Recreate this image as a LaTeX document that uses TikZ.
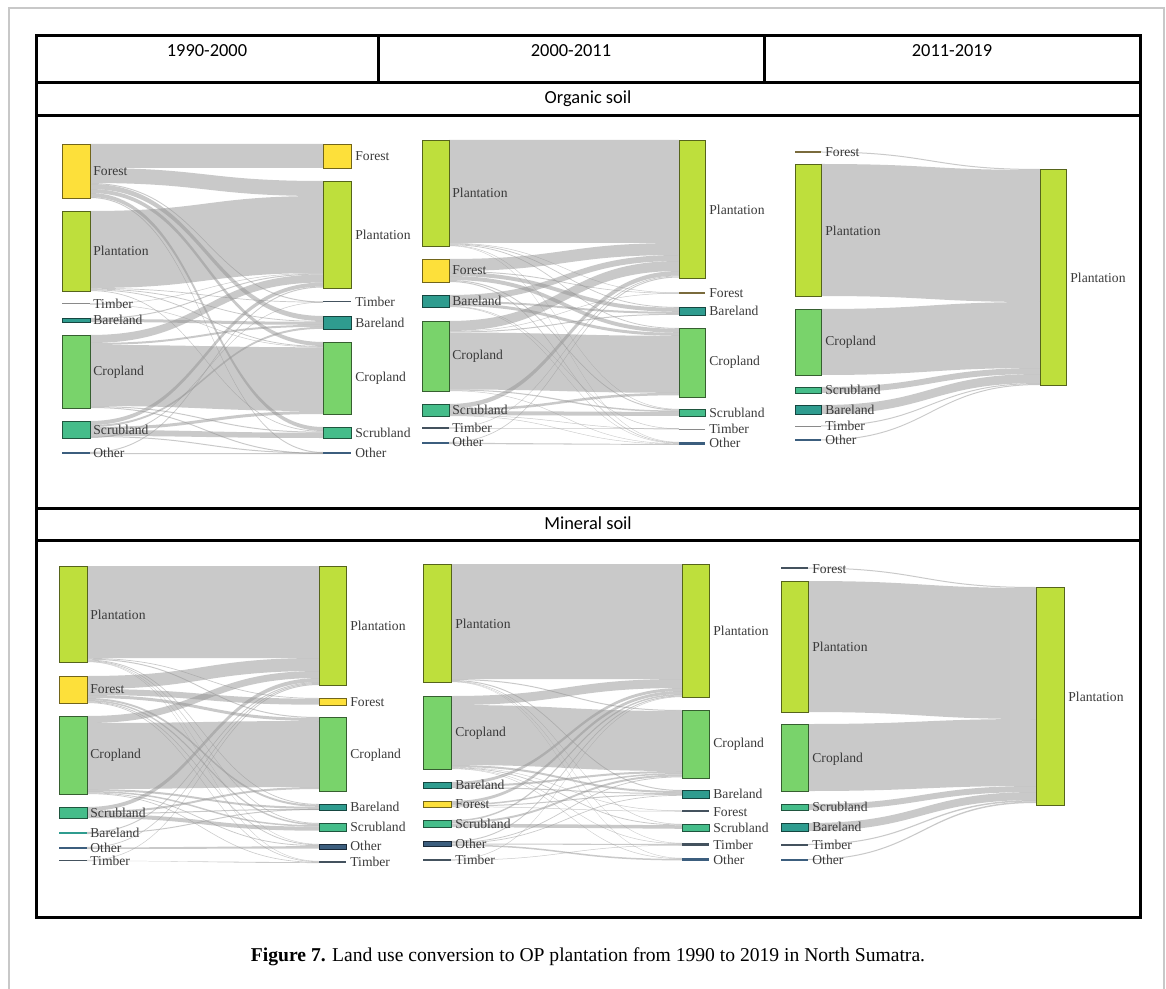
\documentclass[tikz,border=0pt]{standalone}
\usepackage{fontspec}
\setmainfont{Liberation Serif}
\newfontfamily\headfont{Carlito}
\usetikzlibrary{positioning}

\definecolor{plantc}{HTML}{BEDF3C}
\definecolor{forestc}{HTML}{FDE03A}
\definecolor{cropc}{HTML}{79D36B}
\definecolor{scrubc}{HTML}{45BD8A}
\definecolor{barec}{HTML}{2F9C8F}
\definecolor{otherc}{HTML}{3C5E7E}
\definecolor{timberc}{HTML}{44525E}
\definecolor{timberl}{HTML}{8A8A8A}
\definecolor{olivec}{HTML}{7A6B3C}
\definecolor{labelc}{HTML}{3A3A3A}
\definecolor{pagec}{HTML}{C8C8C8}

\tikzset{
  barbox/.style={draw=#1!45!black, line width=0.4pt, fill=#1},
  flowband/.style={fill=black!42, fill opacity=0.5},
  lbl/.style={anchor=west, inner sep=0pt, text=labelc, font=\fontsize{6.8}{7}\selectfont},
  rowtxt/.style={inner sep=0pt, font=\headfont\fontsize{9.2}{11}\selectfont},
  tableline/.style={line width=1.5pt, black}
}

% panel x positions: right edge of left bars, left edge of right bars
\newcommand{\setpanel}[2]{\def\panelL{#1}\def\panelR{#2}\pgfmathsetmacro\panelM{(#1+#2)/2}}
% one flow band: left top/bottom, right top/bottom
\newcommand{\band}[4]{\fill[flowband] (\panelL,#1) .. controls (\panelM,#1) and (\panelM,#3) .. (\panelR,#3) -- (\panelR,#4) .. controls (\panelM,#4) and (\panelM,#2) .. (\panelL,#2) -- cycle;}
% land use bar and thin bar
\newcommand{\lubar}[5]{\draw[barbox=#5] (#1,#3) rectangle (#2,#4);}
\newcommand{\luline}[5]{\draw[#5, line width=#4] (#1,#3) -- (#2,#3);}

\begin{document}
\begin{tikzpicture}[x=0.5pt, y=-0.5pt]
  \useasboundingbox (0,0) rectangle (1166,989);
  % page border
  \draw[pagec, line width=1pt] (9,989) -- (9,8) -- (1164,8) -- (1164,989);

  % table
  \draw[tableline] (36,36) rectangle (1140,917);
  \draw[tableline] (36,83) -- (1140,83);
  \draw[tableline] (36,116) -- (1140,116);
  \draw[tableline] (36,508) -- (1140,508);
  \draw[tableline] (36,540) -- (1140,540);
  \draw[tableline] (378,36) -- (378,83);
  \draw[tableline] (764,36) -- (764,83);
  \node[rowtxt] (head1) at (207,51) {1990-2000};
  \node[rowtxt] (head2) at (571,51) {2000-2011};
  \node[rowtxt] (head3) at (952,51) {2011-2019};
  \node[rowtxt] (organic) at (588,99) {Organic soil};
  \node[rowtxt] (mineral) at (588,523) {Mineral soil};

  % ---- Organic soil, 1990-2000
  \setpanel{90}{323}
  \foreach \a/\b/\c/\d in {144/168/144/168, 168/183/181/196, 183/184/301.5/302.5,
      184/189/316/321, 189/193/342/346, 193/197/427/431, 197/198/452/453,
      211/288/196/273, 288/288.7/301.8/302.5, 288.7/289.5/321/321.8,
      289.5/290.3/346/346.8, 290.3/291/431/431.7,
      303.5/304/273/273.5, 304/304.5/346.8/347.3,
      318/319/273.5/274.5, 319/322/321.8/324.8,
      335/343/274.5/282.5, 343/345/324.8/326.8, 345/406/347.3/411,
      406/407/431.7/432.7, 407/408/453/454,
      421/425/282.5/286.5, 425/427/326.8/328.8, 427/430/411/414,
      430/436/432.7/438, 436/437/452.5/453.5, 437/438/302/302.5,
      452/453/286.5/287.5, 453/454/453/454}
    {\band{\a}{\b}{\c}{\d}}
  \lubar{62}{90}{144}{198}{forestc}
  \lubar{62}{90}{211}{291}{plantc}
  \luline{62}{90}{304}{0.5pt}{timberl}
  \lubar{62}{90}{318}{322}{barec}
  \lubar{62}{90}{335}{408}{cropc}
  \lubar{62}{90}{421}{438}{scrubc}
  \luline{62}{90}{453}{1pt}{otherc}
  \lubar{323}{351}{144}{168}{forestc}
  \lubar{323}{351}{181}{288}{plantc}
  \luline{323}{351}{302}{0.5pt}{timberc}
  \lubar{323}{351}{316}{329}{barec}
  \lubar{323}{351}{342}{414}{cropc}
  \lubar{323}{351}{427}{438}{scrubc}
  \luline{323}{351}{453}{1pt}{otherc}
  \foreach \y/\t in {171/Forest, 251/Plantation, 304/Timber, 320/Bareland,
      372/Cropland, 430/Scrubland, 453/Other}
    {\node[lbl] (oa-l-\t) at (93,\y) {\t};}
  \foreach \y/\t in {156/Forest, 235/Plantation, 302/Timber, 323/Bareland,
      378/Cropland, 433/Scrubland, 453/Other}
    {\node[lbl] (oa-r-\t) at (355,\y) {\t};}

  % ---- Organic soil, 2000-2011
  \setpanel{449}{679}
  \foreach \a/\b/\c/\d in {140/243/140/243, 243/243.5/292.5/293, 243.5/244.3/307/307.8,
      244.3/245.1/328/328.8, 245.1/245.6/409/409.5, 245.6/246/442/442.4,
      259/271/243/255, 271/272/293/293.5, 272/276/307.8/311.8,
      276/280/328.8/332.8, 280/281/409.5/410.5, 281/282/442.4/443,
      295/301/255/261, 301/303/311.8/313.8, 303/306/332.8/335.8,
      306/306.5/428.5/429, 306.5/307/443/443.4,
      321/331/261/271, 331/331.5/293/293.5, 331.5/332.5/313.8/314.8,
      332.5/389.5/335.8/392.8, 389.5/390.5/410.5/412, 390.5/391/443.4/443.8,
      404/408.5/271/275.5, 408.5/411/392.8/395.3, 411/415/412/416,
      415/415.5/429/429.5, 415.5/416/443.8/444.2,
      427.5/428/275.5/276.3, 428/428.5/428.5/429,
      442/442.7/276.5/277.5, 442.7/444/444.2/445}
    {\band{\a}{\b}{\c}{\d}}
  \lubar{422}{449}{140}{246}{plantc}
  \lubar{422}{449}{259}{282}{forestc}
  \lubar{422}{449}{295}{307}{barec}
  \lubar{422}{449}{321}{391}{cropc}
  \lubar{422}{449}{404}{416}{scrubc}
  \luline{422}{449}{428}{0.6pt}{timberc}
  \luline{422}{449}{443}{1pt}{otherc}
  \lubar{679}{705}{140}{278}{plantc}
  \luline{679}{705}{293}{1pt}{olivec}
  \lubar{679}{705}{307}{315}{barec}
  \lubar{679}{705}{328}{397}{cropc}
  \lubar{679}{705}{409}{416}{scrubc}
  \luline{679}{705}{429}{0.5pt}{timberl}
  \luline{679}{705}{443.5}{1.4pt}{otherc}
  \foreach \y/\t in {193/Plantation, 270/Forest, 301/Bareland, 356/Cropland,
      410/Scrubland, 428/Timber, 442/Other}
    {\node[lbl] (ob-l-\t) at (452,\y) {\t};}
  \foreach \y/\t in {210/Plantation, 293/Forest, 311/Bareland, 362/Cropland,
      413/Scrubland, 429/Timber, 443/Other}
    {\node[lbl] (ob-r-\t) at (709,\y) {\t};}

  % ---- Organic soil, 2011-2019
  \setpanel{821}{1040}
  \foreach \a/\b/\c/\d in {151.5/152.5/169/170, 164/296/170/302, 309/375/302/368,
      387/393/368/374, 405/414/374/383, 425.5/426.5/383/384, 439.5/440.5/384/385}
    {\band{\a}{\b}{\c}{\d}}
  \luline{795}{821}{152}{1pt}{olivec}
  \lubar{795}{821}{164}{296}{plantc}
  \lubar{795}{821}{309}{375}{cropc}
  \lubar{795}{821}{387}{393}{scrubc}
  \lubar{795}{821}{405}{414}{barec}
  \luline{795}{821}{426}{0.5pt}{timberl}
  \luline{795}{821}{440}{1pt}{otherc}
  \lubar{1040}{1066}{169}{385}{plantc}
  \foreach \y/\t in {152/Forest, 231/Plantation, 342/Cropland, 390/Scrubland,
      410/Bareland, 426/Timber, 440/Other}
    {\node[lbl] (oc-l-\t) at (825,\y) {\t};}
  \node[lbl] (oc-r-Plantation) at (1070,278) {Plantation};

  % ---- Mineral soil, 1990-2000
  \setpanel{87}{319}
  \foreach \a/\b/\c/\d in {566/658/566/658, 658/658.7/698/698.7, 658.7/659.7/717/718,
      659.7/660.5/804/804.8, 660.5/661.2/823/823.7, 661.2/661.6/844/844.4,
      661.6/662/861/861.4,
      676/689/658/671, 689/695/698.7/704.7, 695/698/718/721, 698/700/804.8/806.8,
      700/701.5/823.7/825.2, 701.5/702.3/844.4/845.2, 702.3/703/861.4/862,
      716/723/671/678, 723/789/721/787, 789/791/806.8/808.8, 791/792.5/825.2/826.7,
      792.5/793.3/845.2/846, 793.3/794/862/862.6,
      807/811/678/682, 811/813/787/789, 813/814/808.8/809.8, 814/818/826.7/830.7,
      832/833/682/683, 833/834/809/810,
      847/847.7/683/684, 847.7/849/846/848.5,
      860/860.5/684/685, 860.5/861/862.4/863}
    {\band{\a}{\b}{\c}{\d}}
  \lubar{59}{87}{566}{662}{plantc}
  \lubar{59}{87}{676}{703}{forestc}
  \lubar{59}{87}{716}{794}{cropc}
  \lubar{59}{87}{807}{818}{scrubc}
  \luline{59}{87}{833}{1pt}{barec}
  \luline{59}{87}{848}{1pt}{otherc}
  \luline{59}{87}{860.5}{0.7pt}{timberc}
  \lubar{319}{346}{566}{685}{plantc}
  \lubar{319}{346}{698}{705}{forestc}
  \lubar{319}{346}{717}{791}{cropc}
  \lubar{319}{346}{804}{810}{barec}
  \lubar{319}{346}{823}{831}{scrubc}
  \lubar{319}{346}{844}{849}{otherc}
  \luline{319}{346}{862}{1pt}{timberc}
  \foreach \y/\t in {615/Plantation, 689/Forest, 755/Cropland, 813/Scrubland,
      833/Bareland, 848/Other, 861/Timber}
    {\node[lbl] (ma-l-\t) at (90,\y) {\t};}
  \foreach \y/\t in {626/Plantation, 702/Forest, 755/Cropland, 807/Bareland,
      827/Scrubland, 846/Other, 862/Timber}
    {\node[lbl] (ma-r-\t) at (350,\y) {\t};}

  % ---- Mineral soil, 2000-2011
  \setpanel{451}{682}
  \foreach \a/\b/\c/\d in {564/679/564/679, 679/680/710/711, 680/681/790/791,
      681/681.5/824/824.5, 681.5/681.8/843/843.4, 681.8/682/858/858.4,
      696/705/679/688, 705/765/711/771, 765/767/791/793, 767/767.4/810.5/811,
      767.4/768.2/824.5/825.3, 768.2/768.6/843.4/843.9, 768.6/769/858.4/858.9,
      782/785/688/691, 785/787/771/773, 787/788/793/794,
      801/804/691/694, 804/805.5/773/774.5, 805.5/806.5/794/795, 806.5/807/811/811.5,
      820/821.5/694/695.5, 821.5/823.5/774.5/776.5, 823.5/827/825.3/828.8,
      841/842/695.5/696.5, 842/842.8/776.5/777.3, 842.8/843.5/795/795.7,
      843.5/844.5/843.9/845, 844.5/846/858.9/860.4,
      859.5/860/696.5/697, 860/860.5/845/845.5}
    {\band{\a}{\b}{\c}{\d}}
  \lubar{423}{451}{564}{682}{plantc}
  \lubar{423}{451}{696}{769}{cropc}
  \lubar{423}{451}{782}{788}{barec}
  \lubar{423}{451}{801}{807}{forestc}
  \lubar{423}{451}{820}{827}{scrubc}
  \lubar{423}{451}{841}{846}{otherc}
  \luline{423}{451}{860}{0.6pt}{timberc}
  \lubar{682}{709}{564}{697}{plantc}
  \lubar{682}{709}{710}{778}{cropc}
  \lubar{682}{709}{790}{798}{barec}
  \luline{682}{709}{811}{0.6pt}{timberc}
  \lubar{682}{709}{824}{831}{scrubc}
  \luline{682}{709}{844.5}{1.5pt}{timberc}
  \luline{682}{709}{859.5}{1.5pt}{otherc}
  \foreach \y/\t in {624/Plantation, 733/Cropland, 785/Bareland, 804/Forest,
      824/Scrubland, 844/Other, 860/Timber}
    {\node[lbl] (mb-l-\t) at (455,\y) {\t};}
  \foreach \y/\t in {631/Plantation, 744/Cropland, 794/Bareland, 812/Forest,
      828/Scrubland, 845/Timber, 860/Other}
    {\node[lbl] (mb-r-\t) at (713,\y) {\t};}

  % ---- Mineral soil, 2011-2019
  \setpanel{808}{1036}
  \foreach \a/\b/\c/\d in {567.5/568.5/587/588, 581/712/588/719, 724/791/719/786,
      804/810/786/792, 823/831/792/800, 844/845/800/801.5, 859/860/801.5/803}
    {\band{\a}{\b}{\c}{\d}}
  \luline{781}{808}{568}{0.6pt}{timberc}
  \lubar{781}{808}{581}{712}{plantc}
  \lubar{781}{808}{724}{791}{cropc}
  \lubar{781}{808}{804}{810}{scrubc}
  \lubar{781}{808}{823}{831}{barec}
  \luline{781}{808}{844.5}{1pt}{timberc}
  \luline{781}{808}{859.5}{1pt}{otherc}
  \lubar{1036}{1064}{587}{805}{plantc}
  \foreach \y/\t in {569/Forest, 647/Plantation, 759/Cropland, 807/Scrubland,
      827/Bareland, 845/Timber, 860/Other}
    {\node[lbl] (mc-l-\t) at (812,\y) {\t};}
  \node[lbl] (mc-r-Plantation) at (1068,697) {Plantation};

  % caption
  \node[inner sep=0pt, font=\fontsize{9.8}{11}\selectfont] (caption) at (588,957)
    {\textbf{Figure 7.} Land use conversion to OP plantation from 1990 to 2019 in North Sumatra.};
\end{tikzpicture}
\end{document}
